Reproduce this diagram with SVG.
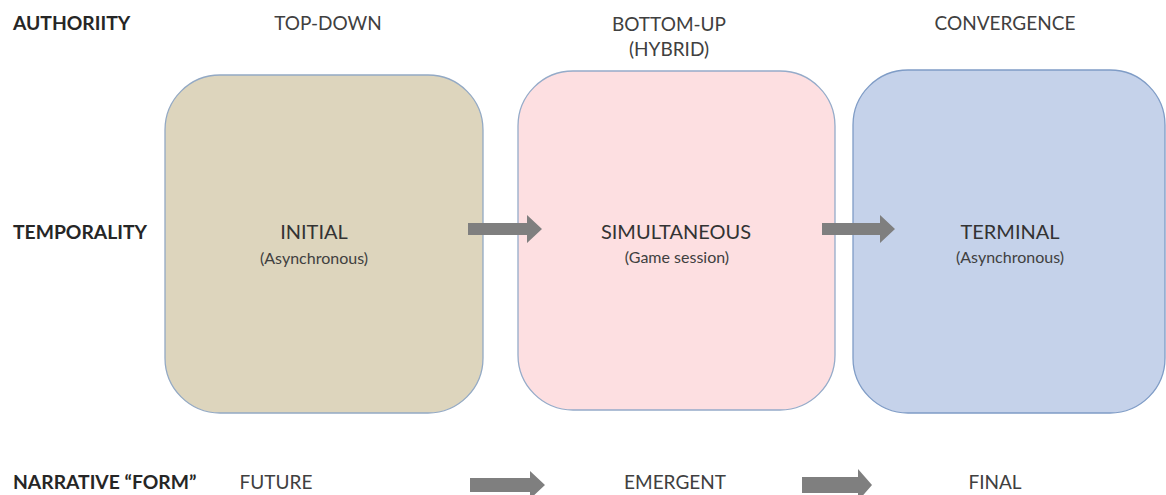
<svg xmlns="http://www.w3.org/2000/svg" width="1166" height="495" viewBox="0 0 1166 495">
  <style>
    .hdr { font-family: Lato, "Open Sans", sans-serif; font-weight: bold; font-size: 19.3px; fill: #262626; }
    .col { font-family: Lato, "Open Sans", sans-serif; font-size: 19px; fill: #404040; text-anchor: middle; }
    .main { font-family: Lato, "Open Sans", sans-serif; font-size: 20px; fill: #333333; text-anchor: middle; }
    .sub { font-family: Lato, "Open Sans", sans-serif; font-size: 16px; fill: #404040; text-anchor: middle; }
    .box { stroke-width: 1.3; }
    .arrow { fill: #7f7f7f; }
  </style>

  <!-- row headings -->
  <g id="row-labels">
    <text class="hdr" x="13" y="30">AUTHORIITY</text>
    <text class="hdr" x="13" y="239">TEMPORALITY</text>
    <text class="hdr" x="13" y="489">NARRATIVE “FORM”</text>
  </g>

  <!-- authority column headings -->
  <g id="authority-labels">
    <text class="col" x="328" y="30">TOP-DOWN</text>
    <text class="col" x="669" y="31">BOTTOM-UP</text>
    <text class="col" x="669" y="56">(HYBRID)</text>
    <text class="col" x="1005" y="30">CONVERGENCE</text>
  </g>

  <g id="node-initial">
    <rect class="box" x="165" y="75" width="318" height="338" rx="55" ry="55" fill="#ddd5bd" stroke="#93a9c4"/>
    <text class="main" x="314" y="239">INITIAL</text>
    <text class="sub" x="314" y="264">(Asynchronous)</text>
  </g>

  <g id="node-simultaneous">
    <rect class="box" x="518" y="71" width="317" height="339" rx="55" ry="55" fill="#fddfe1" stroke="#95abc9"/>
    <text class="main" x="676" y="239">SIMULTANEOUS</text>
    <text class="sub" x="677" y="263">(Game session)</text>
  </g>

  <g id="node-terminal">
    <rect class="box" x="853" y="70" width="312" height="343" rx="55" ry="55" fill="#c5d2ea" stroke="#7f9cc6"/>
    <text class="main" x="1010" y="239">TERMINAL</text>
    <text class="sub" x="1010" y="263">(Asynchronous)</text>
  </g>

  <!-- narrative form labels -->
  <g id="narrative-labels">
    <text class="col" x="276" y="489">FUTURE</text>
    <text class="col" x="675" y="489">EMERGENT</text>
    <text class="col" x="995" y="489">FINAL</text>
  </g>

  <g id="connectors">
    <polygon class="arrow" points="468,223 527,223 527,215 542,229 527,243 527,235 468,235"/>
    <polygon class="arrow" points="822,223 880,223 880,215 895,229 880,243 880,235 822,235"/>
    <polygon class="arrow" points="470,478 530,478 530,471 545,485 530,499 530,492 470,492"/>
    <polygon class="arrow" points="802,477 858,477 858,469 872,485 858,501 858,493 802,493"/>
  </g>
</svg>
